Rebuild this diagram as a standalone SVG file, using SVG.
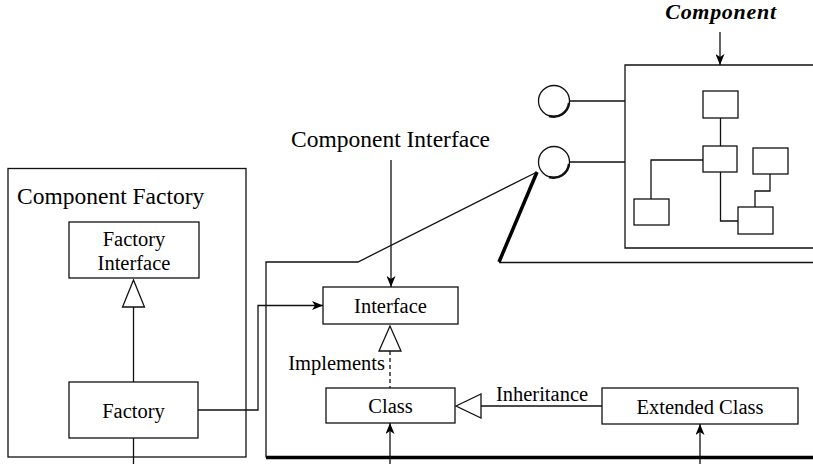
<svg xmlns="http://www.w3.org/2000/svg" width="813" height="464" viewBox="0 0 813 464">
  <defs>
    <style>
      .box { fill: #fff; stroke: #111; stroke-width: 1.3; }
      .ln { fill: none; stroke: #111; stroke-width: 1.3; }
      .thick { fill: none; stroke: #000; stroke-width: 3.5; }
      .tri { fill: #fff; stroke: #111; stroke-width: 1.3; stroke-linejoin: miter; }
      .t { font-family: "Liberation Serif", "Times New Roman", serif; fill: #000; }
      .node { font-size: 20.5px; text-anchor: middle; }
      .big { font-size: 23.5px; }
      .title { font-size: 22px; font-weight: bold; font-style: italic; letter-spacing: 0.7px; text-anchor: middle; }
      .port { fill: #fff; stroke: #111; stroke-width: 1.3; }
      .shade { fill: none; stroke: #111; stroke-width: 2.4; }
    </style>
    <marker id="arrow" viewBox="0 0 11 9" refX="11" refY="4.5" markerWidth="11" markerHeight="9" markerUnits="userSpaceOnUse" orient="auto">
      <path d="M0,0 L11,4.5 L0,9 L3,4.5 z" fill="#000"/>
    </marker>
  </defs>

  <!-- Component Factory container -->
  <g id="component-factory">
    <rect class="box" x="8" y="168.5" width="238" height="288.5" fill="none"/>
    <text class="t big" x="17" y="204">Component Factory</text>
  </g>

  <g id="factory-interface">
    <rect class="box" x="69" y="222" width="130" height="56"/>
    <text class="t node" x="134" y="246">Factory</text>
    <text class="t node" x="134" y="270">Interface</text>
  </g>

  <g id="factory">
    <rect class="box" x="69" y="382" width="129" height="56"/>
    <text class="t node" x="133.5" y="418">Factory</text>
  </g>

  <!-- Classes inside the component -->
  <g id="interface">
    <rect class="box" x="323" y="287" width="135" height="37"/>
    <text class="t node" x="390.5" y="313">Interface</text>
  </g>

  <g id="class">
    <rect class="box" x="326" y="388" width="129" height="35"/>
    <text class="t node" x="390.5" y="413">Class</text>
  </g>

  <g id="extended-class">
    <rect class="box" x="602" y="388" width="196" height="36"/>
    <text class="t node" x="700" y="414">Extended Class</text>
  </g>

  <!-- Packaged component with its ports -->
  <g id="component">
    <text class="t title" x="721" y="19">Component</text>
    <path class="ln" d="M813,65 H625 V248 H813"/>
    <rect class="box" x="703" y="91" width="35" height="27"/>
    <rect class="box" x="703" y="146" width="34" height="26"/>
    <rect class="box" x="753" y="148" width="35" height="26"/>
    <rect class="box" x="634" y="199" width="35" height="26"/>
    <rect class="box" x="738" y="207" width="35" height="27"/>
    <path class="ln" d="M720.5,118 V146"/>
    <path class="ln" d="M703,160 H651 V199"/>
    <path class="ln" d="M720.5,172 V221 H738"/>
    <path class="ln" d="M770,174 V191 H755 V207"/>
  </g>

  <g id="port-1">
    <circle class="port" cx="554" cy="101" r="15.5"/>
    <path class="shade" d="M569,103 A15.5,15.5 0 0 1 549,116"/>
  </g>

  <g id="port-2">
    <circle class="port" cx="554" cy="162" r="15.5"/>
    <path class="shade" d="M569,164 A15.5,15.5 0 0 1 549,177"/>
  </g>

  <!-- Labels -->
  <g id="labels">
    <text class="t big" x="291" y="147">Component Interface</text>
    <text class="t node" x="385" y="370" style="text-anchor:end">Implements</text>
    <text class="t node" x="542" y="401">Inheritance</text>
  </g>

  <g id="connectors">
    <!-- component title pointer -->
    <path class="ln" d="M720,32 V65" marker-end="url(#arrow)"/>
    <!-- ports to component -->
    <path class="ln" d="M569.5,101 H625"/>
    <path class="ln" d="M569.5,162 H625"/>
    <!-- component outline from port 2 -->
    <path class="thick" d="M537,172 L499,262" stroke-width="4"/>
    <path class="ln" d="M499,262.5 H813" stroke-width="1.6"/>
    <!-- implementation outline from port 2 -->
    <path class="ln" d="M537,172 L358,262 H266 V457.5"/>
    <path class="thick" d="M266,457.5 H813"/>
    <!-- component interface pointer -->
    <path class="ln" d="M391,160 V287" marker-end="url(#arrow)"/>
    <!-- factory generalises factory interface -->
    <path class="ln" d="M133.5,307 V382"/>
    <polygon class="tri" points="133.5,280 122.5,307 144.5,307"/>
    <!-- factory creates interface -->
    <path class="ln" d="M198,410 H258 V305.5 H323" marker-end="url(#arrow)"/>
    <path class="ln" d="M133.5,438 V464"/>
    <!-- implements -->
    <path class="ln" d="M390,351 V388" stroke-dasharray="4,3"/>
    <polygon class="tri" points="390,326 379,351 401,351"/>
    <!-- inheritance -->
    <path class="ln" d="M481,406 H602"/>
    <polygon class="tri" points="456,406 481,394 481,418"/>
    <!-- incoming references from below -->
    <path class="ln" d="M390,464 V423" marker-end="url(#arrow)"/>
    <path class="ln" d="M700,464 V424" marker-end="url(#arrow)"/>
  </g>
</svg>
